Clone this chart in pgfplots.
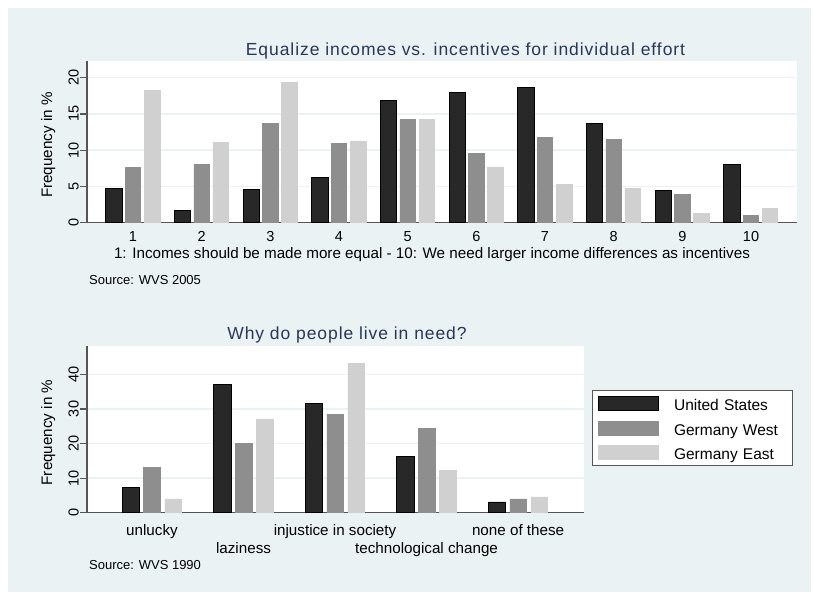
\documentclass[border=0pt]{standalone}
\usepackage{pgfplots}
\pgfplotsset{compat=1.18}
\usepackage{fontspec}
\setmainfont{Liberation Sans}
\newfontfamily\titlefont[LetterSpace=5.3]{Liberation Sans}
\definecolor{bg}{RGB}{234,242,243}
\definecolor{gridc}{RGB}{234,242,243}
\definecolor{cdark}{RGB}{40,40,40}
\definecolor{cmed}{RGB}{142,142,142}
\definecolor{clight}{RGB}{208,208,208}
\definecolor{axc}{RGB}{85,85,85}
\definecolor{titlec}{RGB}{40,55,90}
\newcommand{\tickfont}{\fontsize{14.5}{16}\selectfont}
\newcommand{\labfont}{\fontsize{15.2}{17}\selectfont}

\pgfplotstableread{
x us west east
1 4.7 7.6 18.2
2 1.7 8.0 11.1
3 4.6 13.7 19.4
4 6.3 10.9 11.3
5 16.9 14.2 14.2
6 18.0 9.6 7.7
7 18.7 11.8 5.3
8 13.7 11.5 4.7
9 4.5 3.9 1.3
10 8.0 1.0 2.0
}\equaltable

\pgfplotstableread{
x us west east
1 7.4 13.2 4.0
2 37.2 20.1 27.1
3 31.5 28.5 43.2
4 16.3 24.4 12.3
5 3.1 4.0 4.6
}\needtable

\pgfplotsset{
  stata/.style={
    scale only axis,
    axis background/.style={fill=white},
    axis x line*=bottom,
    axis y line*=left,
    axis line style={axc, line width=1.4pt},
    ymajorgrids,
    grid style={gridc, line width=1.4pt},
    tick align=outside,
    major tick length=7pt,
    ytick style={axc, line width=1.2pt},
    xtick style={draw=none},
    /pgf/number format/assume math mode=true,
    yticklabel style={rotate=90, anchor=south, font=\tickfont, inner sep=1pt},
    xticklabel style={font=\tickfont, anchor=base, inner sep=0pt, yshift=-16pt},
    ymin=0,
    clip=false,
  },
  bleg/.style={legend image code/.code={\draw[##1] (0pt,-7pt) rectangle (60pt,7pt);}},
}

\begin{document}
\begin{tikzpicture}[x=1pt,y=1pt]
\useasboundingbox (0,0) rectangle (814,595);
\fill[white] (0,0) rectangle (814,595);
\fill[bg] (8,3) rectangle (811,587);

% ---------- top panel ----------
\begin{axis}[stata,
  at={(87pt,372.3pt)}, anchor=south west,
  width=710pt, height=161.7pt,
  xmin=0.33, xmax=10.67, ymax=22.3,
  xtick={1,...,10},
  xticklabel style={yshift=4pt},
  ytick={0,5,10,15,20},
]
\addplot[ybar, bar width=0.24, bar shift=-0.277, fill=cdark, draw=black, line width=0.9pt] table[x=x,y=us] {\equaltable};
\addplot[ybar, bar width=0.225, bar shift=0, fill=cmed, draw=cmed, line width=0.5pt] table[x=x,y=west] {\equaltable};
\addplot[ybar, bar width=0.225, bar shift=0.277, fill=clight, draw=clight, line width=0.5pt] table[x=x,y=east] {\equaltable};
\end{axis}

% ---------- bottom panel ----------
\begin{axis}[stata,
  at={(87pt,82.3pt)}, anchor=south west,
  width=497pt, height=166.7pt,
  xmin=0.29, xmax=5.72, ymax=48.2,
  xtick={1,3,5},
  xticklabels={unlucky, injustice in society, none of these},
  xticklabel style={font=\labfont},
  extra x ticks={2,4},
  extra x tick labels={laziness, technological change},
  extra x tick style={xticklabel style={yshift=-17.3pt}, grid=none},
  ytick={0,10,20,30,40},
  legend style={at={(1.0155,0.736)}, anchor=north west, draw=axc, line width=0.9pt, fill=white,
    font=\fontsize{15.5}{17}\selectfont, inner xsep=6pt, inner ysep=5.5pt,
    row sep=10pt, column sep=15pt,
    nodes={inner sep=0pt, text height=14pt, text depth=0pt, text width=112pt, align=left, anchor=west}},
  legend cell align=left,
]
\addplot[ybar, bar width=0.19, bar shift=-0.23, fill=cdark, draw=black, line width=0.9pt, bleg] table[x=x,y=us] {\needtable};
\addlegendentry{United States}
\addplot[ybar, bar width=0.18, bar shift=0, fill=cmed, draw=cmed, line width=0.5pt, bleg] table[x=x,y=west] {\needtable};
\addlegendentry{Germany West}
\addplot[ybar, bar width=0.18, bar shift=0.23, fill=clight, draw=clight, line width=0.5pt, bleg] table[x=x,y=east] {\needtable};
\addlegendentry{Germany East}
\end{axis}

% ---------- texts ----------
\node[anchor=base, text=titlec, font=\titlefont\fontsize{17.5}{20}\selectfont] at (465.5,539) {Equalize incomes vs. incentives for individual effort};
\node[anchor=base, rotate=90, font=\labfont] at (52,450) {Frequency in \%};
\node[anchor=base, inner sep=0pt, font=\labfont] at (432,336.3) {1: Incomes should be made more equal - 10: We need larger income differences as incentives};
\node[anchor=base west, inner sep=0pt, font=\fontsize{13}{15}\selectfont] at (89,310) {Source: WVS 2005};

\node[anchor=base, text=titlec, font=\titlefont\fontsize{17.5}{20}\selectfont] at (347,255.7) {Why do people live in need?};
\node[anchor=base, rotate=90, font=\labfont] at (52,162.5) {Frequency in \%};
\node[anchor=base west, inner sep=0pt, font=\fontsize{13}{15}\selectfont] at (89,25.7) {Source: WVS 1990};
\end{tikzpicture}
\end{document}
